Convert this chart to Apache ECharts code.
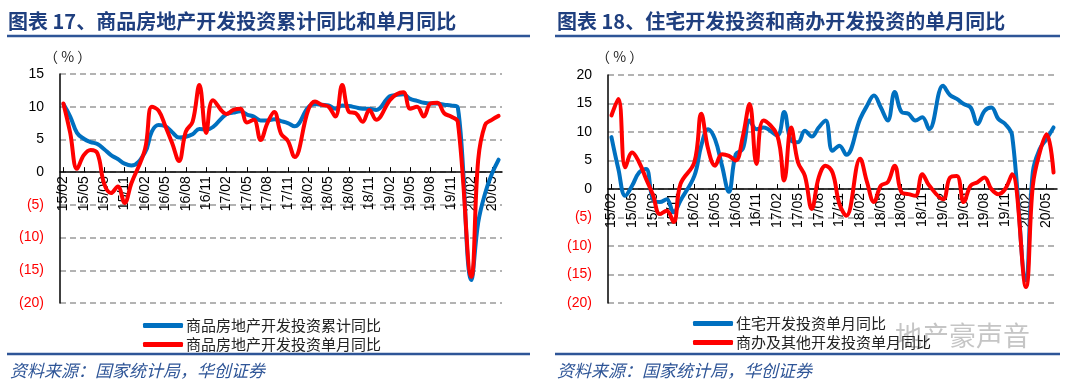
<!DOCTYPE html>
<html>
<head>
<meta charset="utf-8">
<script src="https://cdn.jsdelivr.net/npm/echarts@6/dist/echarts.min.js"></script>
<style>
html,body{margin:0;padding:0;background:#fff;}
#c{width:1080px;height:385px;}
</style>
</head>
<body>
<div id="c"></div>
<script>
// ---- categories: monthly 15/02 .. 20/06 (January slots are empty: Jan-Feb data are combined) ----
const categories = [];
for (let y = 15; y <= 20; y++) {
  for (let m = 1; m <= 12; m++) {
    if (y === 15 && m < 2) continue;
    if (y === 20 && m > 6) continue;
    categories.push(y + '/' + (m < 10 ? '0' + m : m));
  }
}

// ---- Chart 17 ----
const title17 = '图表 17、商品房地产开发投资累计同比和单月同比';
const name17a = '商品房地产开发投资累计同比';
const name17b = '商品房地产开发投资单月同比';
const cum17 = [
  10.4, 8.5, 6.0, 5.1, 4.6, 4.3, 3.5, 2.6, 2.0, 1.3, 1.0,
  null, 3.0, 6.2, 7.2, 7.0, 6.1, 5.3, 5.4, 5.8, 6.6, 6.5, 6.9,
  null, 8.9, 9.1, 9.3, 8.8, 8.5, 7.9, 7.9, 8.1, 7.8, 7.5, 7.0,
  null, 9.9, 10.4, 10.3, 10.2, 9.7, 10.2, 10.1, 9.9, 9.7, 9.7, 9.5,
  null, 11.6, 11.8, 11.9, 11.2, 10.9, 10.6, 10.5, 10.5, 10.3, 10.2, 9.9,
  null, -16.5, -7.7, -3.3, -0.3, 1.9
];
const mon17 = [
  10.5, 6.0, 0.5, 2.6, 3.4, 2.9, -1.8, -3.2, -2.2, -4.7, -1.7,
  null, 3.5, 10.0, 9.4, 7.0, 4.4, 1.7, 6.2, 7.7, 13.3, 6.0, 11.0,
  null, 8.9, 9.5, 9.7, 7.6, 8.0, 4.9, 7.5, 9.2, 5.9, 4.8, 2.3,
  null, 9.5, 10.8, 10.3, 10.0, 8.5, 13.3, 9.2, 9.0, 7.7, 9.5, 8.0,
  null, 11.0, 11.9, 12.2, 9.7, 10.0, 8.5, 10.5, 10.6, 9.0, 8.5, 7.7,
  null, -16.0, 1.9, 7.2, 8.0, 8.6
];
const yTicks17 = {min: -20, max: 15, interval: 5};

// ---- Chart 18 ----
const title18 = '图表 18、住宅开发投资和商办开发投资的单月同比';
const name18a = '住宅开发投资单月同比';
const name18b = '商办及其他开发投资单月同比';
const res18 = [
  9.1, 3.5, -1.2, 0.6, 2.9, 3.5, -1.8, -2.3, -1.8, -4.1, -2.0,
  null, 2.3, 7.6, 10.5, 8.7, 4.1, -0.5, 6.1, 7.0, 12.0, 10.5, 10.8,
  null, 9.4, 13.5, 8.5, 8.2, 10.2, 9.2, 10.8, 12.0, 6.7, 7.6, 6.0,
  null, 12.3, 14.6, 16.4, 14.3, 12.0, 17.0, 13.5, 13.2, 12.0, 12.6, 10.5,
  null, 18.1, 16.5, 15.8, 14.9, 14.3, 11.4, 13.7, 14.3, 12.3, 11.4, 9.4,
  null, -16.0, 3.0, 7.0, 8.8, 10.8
];
const com18 = [
  12.9, 15.8, 3.8, 6.4, 4.7, 1.8, -1.0, -4.4, -3.8, -5.8, 0.9,
  null, 4.7, 13.2, 7.0, 4.1, 6.1, 5.8, 5.0, 9.1, 14.9, 4.4, 12.0,
  null, 9.4, 1.5, 10.8, 4.7, 2.3, -3.5, 2.0, 4.1, 2.9, -2.6, -4.7,
  null, 5.3, 1.2, -2.3, 0.6, 1.2, 4.1, -0.6, -0.9, -1.2, 2.6, 0.6,
  null, -1.8, 2.0, 2.3, -2.3, 0.6, 1.2, 2.0, 0.0, -0.9, 0.0, 2.6,
  null, -17.2, 0.6, 6.4, 9.6, 2.9
];
const yTicks18 = {min: -20, max: 20, interval: 5};

const unitText = '（ % ）';
const sourceText = '资料来源：国家统计局，华创证券';
const watermarkText = '地产豪声音';

const BLUE = '#0070C0', RED = '#FF0000', NAVY = '#1F3F7F', LINEBLUE = '#2E5597';
const CJK = '"Noto Sans CJK SC", sans-serif';
const LAT = '"Liberation Sans", Arial, sans-serif';

// grid geometry (pixels) and the offset that puts the category axis on the value 0
const G17 = {left: 60, right: 578, top: 74, bottom: 82};
const G18 = {left: 608, right: 23, top: 75, bottom: 82};
function zeroOffset(g, t) {
  const h = 385 - g.top - g.bottom;
  return -h * (0 - t.min) / (t.max - t.min);
}

function yAxis(idx, t) {
  return {
    type: 'value', gridIndex: idx, min: t.min, max: t.max, interval: t.interval,
    axisLine: {show: true, lineStyle: {color: '#000', width: 1.5}},
    axisTick: {show: false},
    axisLabel: {
      margin: 16, fontSize: 14, fontFamily: LAT,
      formatter: v => (v < 0 ? '(' + (-v) + ')' : String(v)),
      color: v => (Number(v) < 0 ? '#FF0000' : '#000')
    },
    splitLine: {show: true, lineStyle: {color: '#9a9a9a', width: 1.5, type: [6, 4]}}
  };
}
function xAxis(idx, off) {
  return {
    type: 'category', gridIndex: idx, data: categories, boundaryGap: true,
    position: 'bottom', offset: off,
    axisLine: {onZero: false, lineStyle: {color: '#000', width: 1.5}},
    axisTick: {show: true, inside: true, interval: 2, alignWithLabel: true, length: 5, lineStyle: {color: '#000', width: 1}},
    axisLabel: {interval: 2, rotate: 90, fontSize: 14, fontFamily: LAT, color: '#000', margin: 4}
  };
}
function line(name, data, color, xi) {
  return {
    name, type: 'line', data, xAxisIndex: xi, yAxisIndex: xi,
    smooth: 0.4, connectNulls: true, symbol: 'none',
    lineStyle: {color, width: 4, cap: 'round', join: 'round'}, itemStyle: {color},
    z: color === RED ? 3 : 2
  };
}
function legend(left, top, names) {
  return {
    left, top, orient: 'vertical', itemGap: 4, itemWidth: 40, itemHeight: 5,
    icon: 'roundRect', data: names, selectedMode: false,
    textStyle: {fontSize: 15, fontFamily: CJK, color: '#222', padding: [0, 0, 0, -2]}
  };
}
function hline(x1, x2, y, w) {
  return {type: 'line', shape: {x1, y1: y, x2, y2: y}, style: {stroke: LINEBLUE, lineWidth: w}};
}
function text(t, x, y, opt) {
  return {type: 'text', x, y, style: Object.assign({text: t, verticalAlign: 'middle'}, opt)};
}

const chart = echarts.init(document.getElementById('c'), null, {renderer: 'canvas'});
chart.setOption({
  animation: false,
  backgroundColor: '#fff',
  grid: [G17, G18],
  xAxis: [xAxis(0, zeroOffset(G17, yTicks17)), xAxis(1, zeroOffset(G18, yTicks18))],
  yAxis: [yAxis(0, yTicks17), yAxis(1, yTicks18)],
  legend: [legend(138, 313, [name17a, name17b]), legend(688, 311, [name18a, name18b])],
  series: [
    line(name17a, cum17, BLUE, 0),
    line(name17b, mon17, RED, 0),
    line(name18a, res18, BLUE, 1),
    line(name18b, com18, RED, 1)
  ],
  graphic: [
    text(title17, 8, 21, {fill: NAVY, fontSize: 20, fontWeight: 'bold', fontFamily: CJK}),
    text(title18, 557, 21, {fill: NAVY, fontSize: 20, fontWeight: 'bold', fontFamily: CJK}),
    hline(7, 530, 36, 2.5),
    hline(555, 1060, 36, 2.5),
    text(unitText, 44, 57, {fill: '#222', fontSize: 14, fontFamily: CJK}),
    text(unitText, 596, 57, {fill: '#222', fontSize: 14, fontFamily: CJK}),
    hline(7, 530, 354, 2.5),
    hline(555, 1060, 354, 2.5),
    text(sourceText, 10, 371, {fill: LINEBLUE, fontSize: 17, fontStyle: 'italic', fontFamily: CJK}),
    text(sourceText, 557, 371, {fill: LINEBLUE, fontSize: 17, fontStyle: 'italic', fontFamily: CJK}),
    text(watermarkText, 895, 336, {fill: 'rgba(150,150,150,0.55)', fontSize: 27, fontFamily: CJK})
  ]
});
</script>
</body>
</html>
